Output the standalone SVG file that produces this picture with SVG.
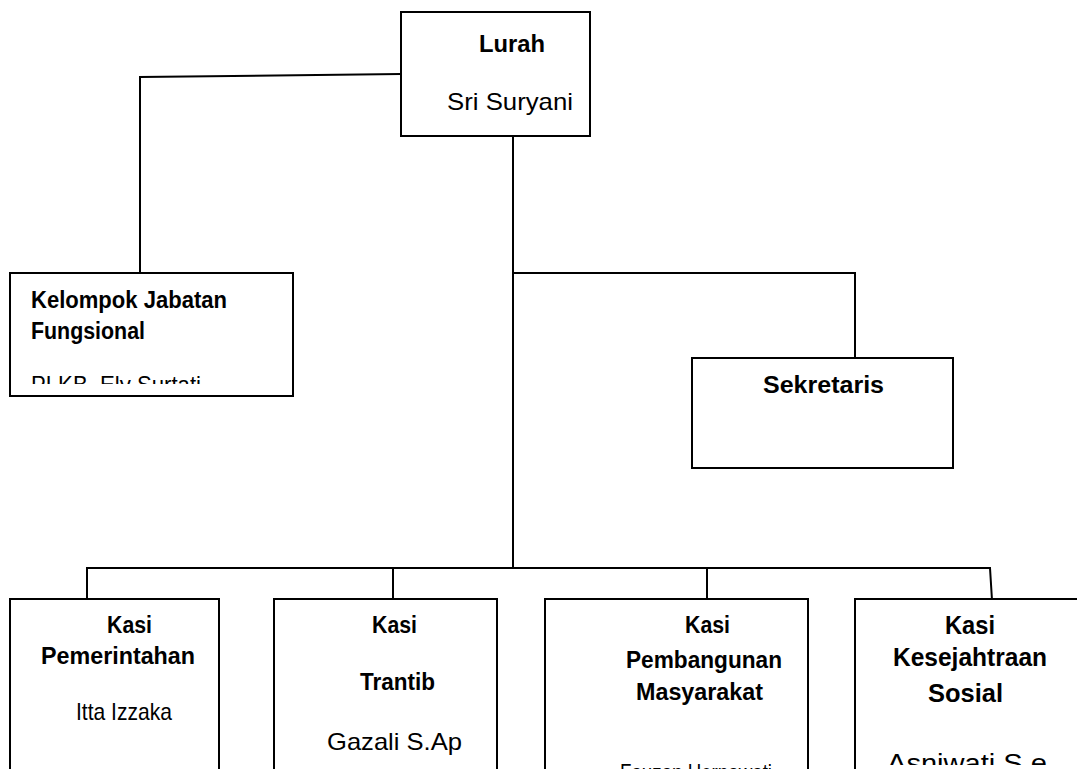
<svg xmlns="http://www.w3.org/2000/svg" width="1077" height="769" viewBox="0 0 1077 769">
<style>
.box{fill:#fff;stroke:#000;stroke-width:2}
.ln{fill:none;stroke:#000;stroke-width:2}
text{font-family:"Liberation Sans",Arial,sans-serif;font-size:24px;fill:#000}
.b{font-weight:bold;font-size:23px}
.L{font-size:26px}
</style>
<defs>
<clipPath id="c1"><rect x="10" y="273" width="283" height="111"/></clipPath>
<clipPath id="c3"><rect x="545" y="599" width="263" height="170"/></clipPath>
<clipPath id="c4"><rect x="855" y="599" width="222" height="166"/></clipPath>
</defs>
<g id="connectors">
<path class="ln" d="M401 74 L140 77 L140 274"/>
<path class="ln" d="M513 136 L513 568"/>
<path class="ln" d="M513 273 L855 273 L855 358"/>
<path class="ln" d="M87 600 L87 568 L990 568 L992 600"/>
<path class="ln" d="M393 568 L393 600"/>
<path class="ln" d="M707 568 L707 600"/>
</g>
<g id="lurah">
<rect class="box" x="401" y="12" width="189" height="124"/>
<text class="b" x="479" y="52" textLength="66" lengthAdjust="spacingAndGlyphs">Lurah</text>
<text x="447" y="110" textLength="126" lengthAdjust="spacingAndGlyphs">Sri Suryani</text>
</g>
<g id="kelompok">
<rect class="box" x="10" y="273" width="283" height="123"/>
<text class="b" x="31" y="308" textLength="196" lengthAdjust="spacingAndGlyphs">Kelompok Jabatan</text>
<text class="b" x="31" y="339" textLength="114" lengthAdjust="spacingAndGlyphs">Fungsional</text>
<text x="31" y="393" clip-path="url(#c1)" textLength="170" lengthAdjust="spacingAndGlyphs">PLKB. Ely Surtati</text>
</g>
<g id="sekretaris">
<rect class="box" x="692" y="358" width="261" height="110"/>
<text class="b" x="763" y="393" textLength="121" lengthAdjust="spacingAndGlyphs">Sekretaris</text>
</g>
<g id="kasi-pemerintahan">
<rect class="box" x="10" y="599" width="209" height="180"/>
<text class="b" x="107" y="633" textLength="45" lengthAdjust="spacingAndGlyphs">Kasi</text>
<text class="b" x="41" y="664" textLength="154" lengthAdjust="spacingAndGlyphs">Pemerintahan</text>
<text x="76" y="720" textLength="96" lengthAdjust="spacingAndGlyphs">Itta Izzaka</text>
</g>
<g id="kasi-trantib">
<rect class="box" x="274" y="599" width="223" height="180"/>
<text class="b" x="372" y="633" textLength="45" lengthAdjust="spacingAndGlyphs">Kasi</text>
<text class="b" x="360" y="690" textLength="75" lengthAdjust="spacingAndGlyphs">Trantib</text>
<text x="327" y="750" textLength="135" lengthAdjust="spacingAndGlyphs">Gazali S.Ap</text>
</g>
<g id="kasi-pembangunan">
<rect class="box" x="545" y="599" width="263" height="180"/>
<text class="b" x="685" y="633" textLength="45" lengthAdjust="spacingAndGlyphs">Kasi</text>
<text class="b" x="626" y="668" textLength="156" lengthAdjust="spacingAndGlyphs">Pembangunan</text>
<text class="b" x="636" y="700" textLength="127" lengthAdjust="spacingAndGlyphs">Masyarakat</text>
<text x="620" y="781" clip-path="url(#c3)" textLength="152" lengthAdjust="spacingAndGlyphs">Fauzan Hernawati</text>
</g>
<g id="kasi-kesejahtraan">
<rect class="box" x="855" y="599" width="240" height="180"/>
<text class="b L" x="945" y="634" textLength="50" lengthAdjust="spacingAndGlyphs">Kasi</text>
<text class="b L" x="893" y="666" textLength="154" lengthAdjust="spacingAndGlyphs">Kesejahtraan</text>
<text class="b L" x="928" y="702" textLength="75" lengthAdjust="spacingAndGlyphs">Sosial</text>
<text class="L" x="887" y="772" clip-path="url(#c4)" textLength="160" lengthAdjust="spacingAndGlyphs">Asniwati S.e</text>
</g>
</svg>
